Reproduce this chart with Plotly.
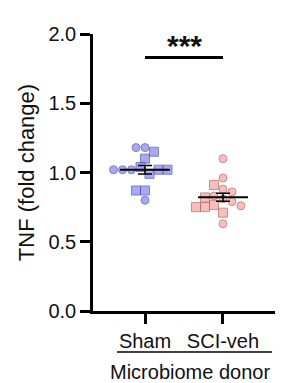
import numpy as np
import plotly.graph_objects as go

# ---- data ----
categories = ["Sham", "SCI-veh"]
sham_values = [1.18, 1.18, 1.15, 1.10, 1.04, 0.99, 1.02, 1.02, 1.02, 1.02, 1.02, 0.87, 0.87, 0.80]
sham_shapes = ["circle", "circle", "square", "square", "square", "square", "circle", "square", "circle", "square", "circle", "square", "square", "circle"]
sci_values = [1.10, 0.96, 0.91, 0.88, 0.86, 0.83, 0.82, 0.81, 0.79, 0.765, 0.76, 0.75, 0.75, 0.71, 0.63]
sci_shapes = ["circle", "circle", "square", "circle", "circle", "circle", "square", "circle", "circle", "square", "circle", "square", "square", "square", "circle"]
y_ticks = [0.0, 0.5, 1.0, 1.5, 2.0]
y_range = [0, 2.0]
sig_label = "***"
sig_level = 1.83

# ---- layout constants ----
W, H = 283, 383
ML, MR, MT, MB = 93, 8, 34, 72
x_range = [-0.667, 1.667]
plot_w = W - ML - MR
plot_h = H - MT - MB
px_per_x = plot_w / (x_range[1] - x_range[0])
px_per_y = plot_h / (y_range[1] - y_range[0])


def beeswarm(values, d=9.0):
    placed = []
    offs = []
    for v in values:
        yp = v * px_per_y
        cands = [0]
        for i in range(1, 20):
            cands += [-i * 0.5, i * 0.5]
        for c in cands:
            xp = c * d
            ok = True
            for (px, py) in placed:
                if (px - xp) ** 2 + (py - yp) ** 2 < (d * 0.98) ** 2:
                    ok = False
                    break
            if ok:
                placed.append((xp, yp))
                offs.append(xp / px_per_x)
                break
    return offs


groups = [
    (sham_values, sham_shapes, "#8484ee", "#4b4ba8"),
    (sci_values, sci_shapes, "#f5a3a3", "#b35f5f"),
]

fig = go.Figure()
shapes = []
for gi, (vals, shp, fill, edge) in enumerate(groups):
    offs = beeswarm(vals)
    xs = [gi + o for o in offs]
    syms = ["square" if s == "square" else "circle" for s in shp]
    sizes = [9 if s == "square" else 8 for s in shp]
    fig.add_trace(go.Scatter(
        x=xs, y=vals, mode="markers",
        marker=dict(symbol=syms, size=sizes, color=fill,
                    line=dict(color=edge, width=1)),
        showlegend=False, hoverinfo="y"))
    m = float(np.mean(vals))
    sem = float(np.std(vals, ddof=1) / np.sqrt(len(vals)))
    fig.add_trace(go.Scatter(
        x=[gi], y=[m], mode="markers", marker=dict(size=0.1, color="black"),
        error_y=dict(type="data", array=[sem], color="black", thickness=1.5, width=7),
        showlegend=False, hoverinfo="skip"))
    shapes.append(dict(type="line", xref="x", yref="y", x0=gi - 0.32, x1=gi + 0.32,
                       y0=m, y1=m, line=dict(color="black", width=2), layer="above"))

# significance bar
shapes.append(dict(type="line", xref="x", yref="y", x0=0, x1=1, y0=sig_level, y1=sig_level,
                   line=dict(color="black", width=3)))
# group underline
shapes.append(dict(type="line", xref="paper", yref="paper", x0=0.132, x1=0.984,
                   y0=-0.148, y1=-0.148, line=dict(color="black", width=1.5)))

fig.update_layout(
    width=W, height=H,
    margin=dict(l=ML, r=MR, t=MT, b=MB),
    paper_bgcolor="white", plot_bgcolor="white",
    font=dict(family="Arial, Liberation Sans, sans-serif", size=20, color="#111111"),
    shapes=shapes,
    annotations=[
        dict(text="<b>" + sig_label + "</b>", x=0.5, y=sig_level, xref="x", yref="y", yanchor="bottom",
             showarrow=False, yshift=-6, font=dict(size=30, color="#111111")),
        dict(text="Microbiome donor", x=0.533, y=-0.220, xref="paper", yref="paper",
             showarrow=False, xanchor="center", yanchor="middle", font=dict(size=20)),
    ],
)
fig.update_xaxes(range=x_range, tickvals=[0, 1], ticktext=categories,
                 showline=True, linecolor="black", linewidth=2.5,
                 ticks="outside", ticklen=10, tickwidth=2.5, tickcolor="black",
                 showgrid=False, zeroline=False, tickfont=dict(size=20))
fig.update_yaxes(range=y_range, tickvals=y_ticks, tickformat=".1f",
                 showline=True, linecolor="black", linewidth=2.5,
                 ticks="outside", ticklen=10, tickwidth=2.5, tickcolor="black",
                 showgrid=False, zeroline=False, tickfont=dict(size=20),
                 title=dict(text="TNF (fold change)", font=dict(size=22), standoff=8))

fig.write_html("out.html", config={"displayModeBar": False},
               post_script="document.body.style.margin='0';document.body.style.overflow='hidden';")
